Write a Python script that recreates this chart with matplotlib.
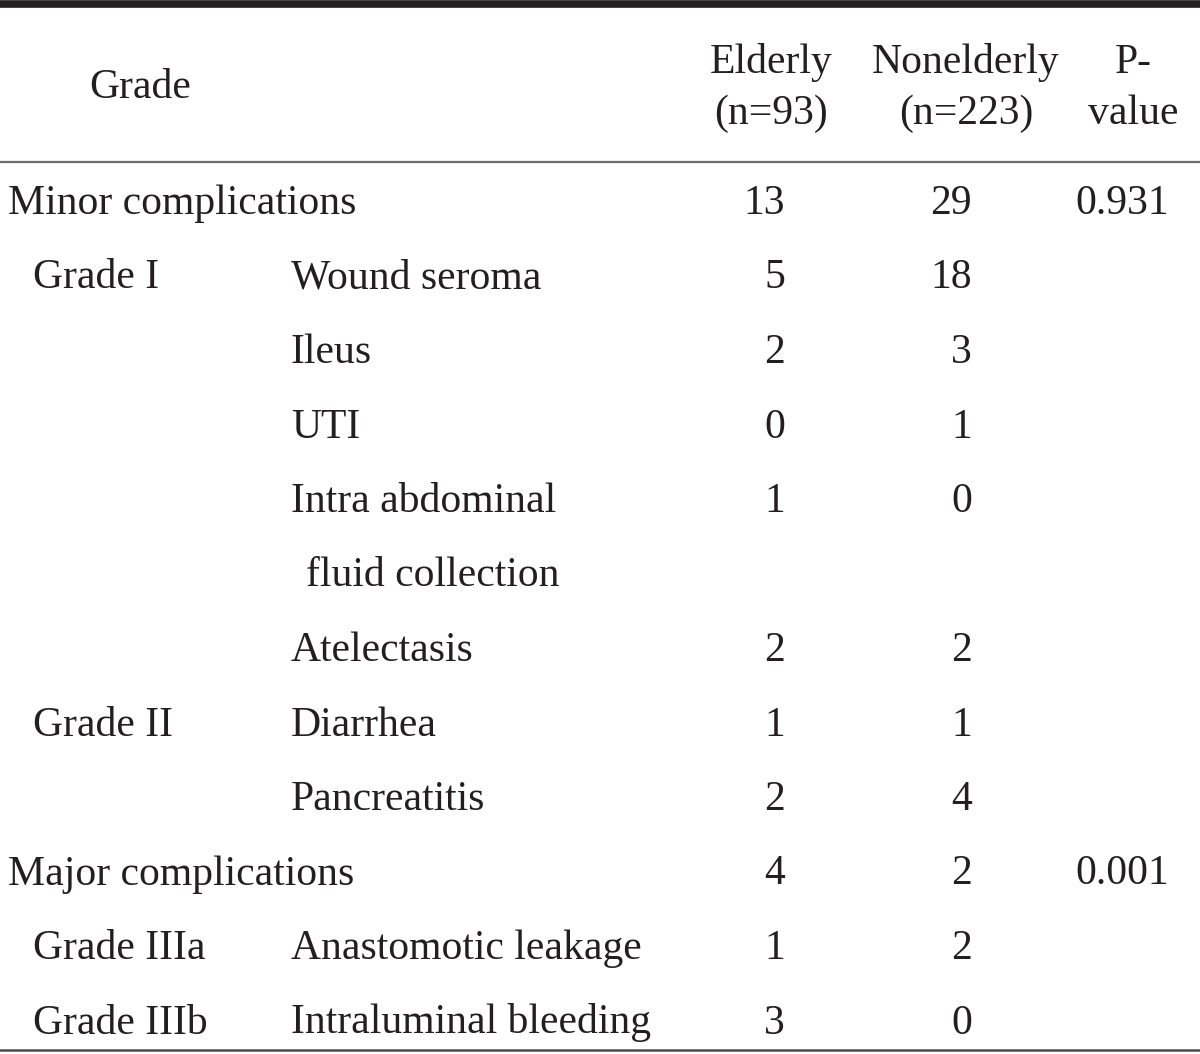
import matplotlib.pyplot as plt

plt.rcParams['font.family'] = ['Liberation Serif', 'DejaVu Serif']

# table contents
headers = ["Grade", "Elderly\n(n=93)", "Nonelderly\n(n=223)", "P-\nvalue"]
groups = ["Minor complications", "", "", "", "", "", "", "", "Major complications", "", ""]
grades = ["", "Grade I", "", "", "", "", "Grade II", "", "", "Grade IIIa", "Grade IIIb"]
items = ["", "Wound seroma", "Ileus", "UTI", "Intra abdominal\n  fluid collection",
         "Atelectasis", "Diarrhea", "Pancreatitis", "", "Anastomotic leakage",
         "Intraluminal bleeding"]
elderly = ["13", "5", "2", "0", "1", "2", "1", "2", "4", "1", "3"]
nonelderly = ["29", "18", "3", "1", "0", "2", "1", "4", "2", "2", "0"]
pvalues = ["0.931", "", "", "", "", "", "", "", "0.001", "", ""]

fig = plt.figure(figsize=(12, 10.54), dpi=100)
ax = fig.add_axes([0, 0, 1, 1])
ax.set_xlim(0, 1200)
ax.set_ylim(1054, 0)
ax.axis('off')

fs = 30
col = '#231f20'
kw = dict(fontsize=fs, color=col, va='baseline')

# rules
ax.axhline(3.5, color=col, lw=5.5)
ax.axhline(162, color='#6d6e71', lw=1.6)
ax.axhline(1050, color='#4d4d4f', lw=1.8)

# header
ax.text(140, 98, headers[0], ha='center', **kw)
for x, h in zip([771, 966, 1133], headers[1:]):
    top, bottom = h.split('\n')
    ax.text(x, 73, top, ha='center', **kw)
    ax.text(x, 124, bottom, ha='center', **kw)

# body
y = 214
step = 74.5
for i in range(len(items)):
    if groups[i]:
        ax.text(8, y, groups[i], ha='left', **kw)
    if grades[i]:
        ax.text(33, y, grades[i], ha='left', **kw)
    lines = items[i].split('\n')
    for j, line in enumerate(lines):
        if line:
            ax.text(291 + (15 if line.startswith(' ') else 0), y + j * step,
                    line.strip(), ha='left', **kw)
    ax.text(785, y, elderly[i], ha='right', **kw)
    ax.text(972, y, nonelderly[i], ha='right', **kw)
    if pvalues[i]:
        ax.text(1122, y, pvalues[i], ha='center', **kw)
    y += step * len(lines)

fig.savefig('out.png', dpi=100)
